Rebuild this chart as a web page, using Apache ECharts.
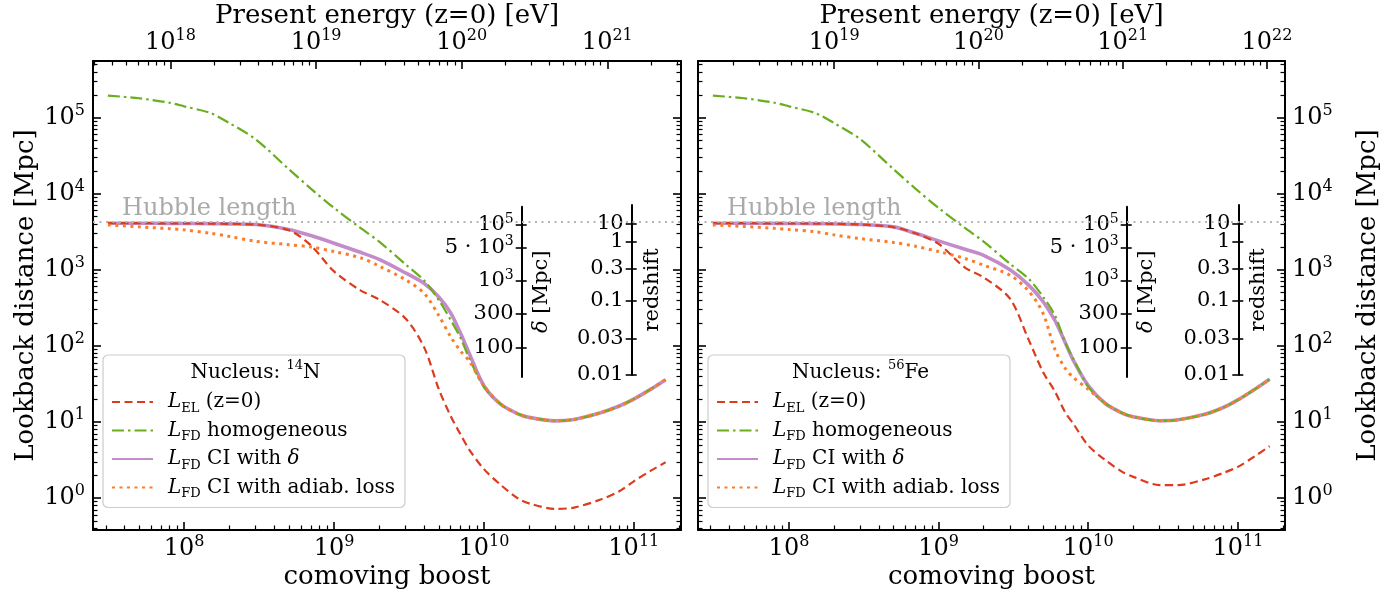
<!DOCTYPE html>
<html><head><meta charset="utf-8">
<script src="https://cdn.jsdelivr.net/npm/echarts@6/dist/echarts.min.js"></script>
<style>html,body{margin:0;padding:0;background:#fff}#c{width:1391px;height:599px}</style>
</head><body><div id="c"></div>
<script>
// ---------------- data ----------------
const boost = [3.1e7, 5e7, 8e7, 1e8, 1.5e8, 2e8, 3e8, 5e8, 7e8, 1e9, 1.5e9, 2e9, 3e9, 4e9, 5e9, 6e9, 7e9, 8e9, 1e10, 1.3e10, 1.7e10, 2e10, 3e10, 4e10, 6e10, 8e10, 1e11, 1.3e11, 1.63e11];

// Nucleus 14N (left panel), lookback distance [Mpc]
const lelN      = [4100, 4100, 4080, 4070, 4050, 4020, 3940, 3310, 2100, 955, 537, 407, 229, 95, 27, 12, 6.8, 4.3, 2.4, 1.48, 0.98, 0.85, 0.72, 0.75, 0.955, 1.23, 1.66, 2.29, 2.95];
const homN      = [195000, 180000, 157000, 141000, 115000, 85000, 52000, 21000, 11700, 6500, 3550, 2350, 1180, 720, 400, 220, 126, 68, 29, 17, 12.7, 11.5, 10.35, 10.8, 13.2, 16.2, 20, 27, 36];
const deltaN    = [4100, 4100, 4080, 4070, 4050, 4020, 3940, 3390, 2820, 2240, 1700, 1370, 910, 660, 440, 272, 145, 79, 30, 17, 12.7, 11.5, 10.35, 10.8, 13.2, 16.2, 20, 27, 36];
const adiabN    = [3890, 3670, 3470, 3350, 3020, 2750, 2370, 2140, 2000, 1740, 1440, 1120, 740, 490, 251, 132, 85, 63, 30, 17, 12.7, 11.5, 10.35, 10.8, 13.2, 16.2, 20, 27, 36];

// Nucleus 56Fe (right panel), lookback distance [Mpc]
const lelFe     = [4100, 4100, 4080, 4070, 4050, 4020, 3940, 3630, 3020, 2190, 1070, 795, 417, 120, 45, 25, 13.5, 9.3, 4.9, 3.16, 2.19, 1.9, 1.48, 1.48, 1.76, 2.14, 2.57, 3.55, 4.8];
const homFe     = [195000, 180000, 157000, 141000, 115000, 85000, 52000, 21000, 11700, 6500, 3550, 2350, 1200, 760, 440, 250, 112, 66, 29, 17.5, 13, 11.7, 10.4, 10.7, 12.6, 15.5, 19.5, 27, 36.5];
const deltaFe   = [4100, 4100, 4080, 4070, 4050, 4020, 3940, 3670, 3020, 2400, 1860, 1550, 1000, 630, 380, 214, 112, 63, 30, 17.5, 13, 11.7, 10.4, 10.7, 12.6, 15.5, 19.5, 27, 36.5];
const adiabFe   = [3890, 3720, 3510, 3390, 3160, 2880, 2570, 2290, 2040, 1740, 1410, 1150, 850, 525, 265, 89, 51, 38, 27, 17.5, 13, 11.7, 10.4, 10.7, 12.6, 15.5, 19.5, 27, 36.5];

const hubbleLength = 4300;
const nucleusN = '14', nucleusFe = '56';

// tick values / labels
const boostTicks = [1e8, 1e9, 1e10, 1e11];
const energyTicksN = [1e18, 1e19, 1e20, 1e21];
const energyTicksFe = [1e19, 1e20, 1e21, 1e22];
const distTicks = [1, 10, 100, 1e3, 1e4, 1e5];
const deltaTickPos = [3890, 1960, 715, 263, 94];
const deltaTickLabels = ['10^5', '5 · 10^3', '10^3', '300', '100'];
const zTickPos = [4050, 2360, 1030, 395, 126, 42];
const zTickLabels = ['10', '1', '0.3', '0.1', '0.03', '0.01'];

// ---------------- layout / style ----------------
const FONT = 'DejaVu Serif';
const xRange = [Math.pow(10, 7.392), Math.pow(10, 11.315)];
const yRange = [Math.pow(10, -0.42), Math.pow(10, 5.745)];
const eRanges = [[Math.pow(10, 17.468), Math.pow(10, 21.506)], [Math.pow(10, 18.056), Math.pow(10, 22.125)]];
const TOP = 61, H = 469;
const panels = [
  {left: 93, width: 588, deltaX: 521.7, zX: 631.7, legendLeft: 103, nuc: nucleusN, sym: 'N',
   data: [lelN, homN, deltaN, adiabN], eTicks: energyTicksN, eRange: eRanges[0]},
  {left: 698, width: 587, deltaX: 1126.7, zX: 1238.3, legendLeft: 708, nuc: nucleusFe, sym: 'Fe',
   data: [lelFe, homFe, deltaFe, adiabFe], eTicks: energyTicksFe, eRange: eRanges[1]}
];
const seriesDefs = [
  {name: 'EL', color: '#dc3b1c', width: 2.2, type: [8, 4.5], z: 3},
  {name: 'HOM', color: '#6aae1d', width: 2.2, type: [12, 4, 2.5, 4], z: 4},
  {name: 'DELTA', color: '#c48bca', width: 3.6, type: 'solid', z: 2},
  {name: 'ADIAB', color: '#fb7d28', width: 3, type: [3, 4.5], z: 5}
];
const legendText = {
  EL: '{i|L}{sub|EL}{t| (z=0)}',
  HOM: '{i|L}{sub|FD}{t| homogeneous}',
  DELTA: '{i|L}{sub|FD}{t| CI with }{i|δ}',
  ADIAB: '{i|L}{sub|FD}{t| CI with adiab. loss}'
};

const richTick = {
  b: {fontFamily: FONT, fontSize: 24, lineHeight: 30, color: '#000'},
  s: {fontFamily: FONT, fontSize: 16, lineHeight: 17, verticalAlign: 'top', color: '#000'}
};
const richInner = {
  b: {fontFamily: FONT, fontSize: 21, lineHeight: 26, color: '#000'},
  s: {fontFamily: FONT, fontSize: 14, lineHeight: 14, verticalAlign: 'top', color: '#000'}
};
function pow10Label(v) { const e = Math.round(Math.log10(v)); return '{b|10}{s|' + e + '}'; }
function richify(s) {
  const m = s.match(/^(.*)\^(\d+)$/);
  return m ? '{b|' + m[1] + '}{s|' + m[2] + '}' : '{b|' + s + '}';
}
function nearestLabel(v, pos, labels) {
  let best = 0, bd = Infinity;
  pos.forEach((p, i) => { const d = Math.abs(Math.log(p) - Math.log(v)); if (d < bd) { bd = d; best = i; } });
  return richify(labels[best]);
}
function minorVals(lo, hi) {
  const out = [];
  for (let e = Math.floor(Math.log10(lo)); e <= Math.ceil(Math.log10(hi)); e++) {
    for (let m = 2; m <= 9; m++) { const v = m * Math.pow(10, e); if (v >= lo && v <= hi) out.push(v); }
  }
  return out;
}
const axisLine = {show: true, onZero: false, lineStyle: {color: '#000', width: 2}};
const nameStyle = {fontFamily: FONT, fontSize: 26, color: '#000'};

const grids = [], xAxes = [], yAxes = [], series = [], legends = [], graphics = [];
const addGrid = g => { grids.push(Object.assign({outerBoundsMode: 'none', containLabel: false}, g)); return grids.length - 1; };
const addX = a => { xAxes.push(a); return xAxes.length - 1; };
const addY = a => { yAxes.push(a); return yAxes.length - 1; };

function logAxis(gridIndex, range, position, extra) {
  return Object.assign({
    type: 'log', gridIndex, min: range[0], max: range[1], position,
    axisLine: {show: false, onZero: false}, splitLine: {show: false},
    minorTick: {show: false}, minorSplitLine: {show: false},
    axisPointer: {show: false}, nameMoveOverlap: false, silent: true
  }, extra);
}
function majorTick(vals, len) { return {show: true, inside: true, length: len || 8, customValues: vals, lineStyle: {color: '#000', width: 1.6}}; }
function minorTick(vals) { return {show: true, inside: true, length: 4.5, customValues: vals, lineStyle: {color: '#000', width: 1.2}}; }
function labelOpts(vals, fmt, rich, margin, show, inside) {
  return {show: show !== false, inside: !!inside, customValues: vals, formatter: fmt, rich, margin,
          showMinLabel: true, showMaxLabel: true, hideOverlap: false};
}

panels.forEach((p, pi) => {
  const gi = addGrid({left: p.left, top: TOP, width: p.width, height: H});
  // bottom boost axis
  const xb = addX(logAxis(gi, xRange, 'bottom', {
    axisLine, axisTick: majorTick(boostTicks),
    axisLabel: labelOpts(boostTicks, pow10Label, richTick, 4),
    name: 'comoving boost', nameLocation: 'middle', nameGap: 34, nameTextStyle: nameStyle
  }));
  addX(logAxis(gi, xRange, 'bottom', {axisTick: minorTick(minorVals(xRange[0], xRange[1])), axisLabel: {show: false}}));
  // top energy axis
  addX(logAxis(gi, p.eRange, 'top', {
    axisLine, axisTick: majorTick(p.eTicks),
    axisLabel: labelOpts(p.eTicks, pow10Label, richTick, 3),
    name: 'Present energy (z=0) [eV]', nameLocation: 'middle', nameGap: 32, nameTextStyle: nameStyle
  }));
  addX(logAxis(gi, p.eRange, 'top', {axisTick: minorTick(minorVals(p.eRange[0], p.eRange[1])), axisLabel: {show: false}}));
  // y axes
  const leftLabels = pi === 0, rightLabels = pi === 1;
  const yl = addY(logAxis(gi, yRange, 'left', Object.assign({
    axisLine, axisTick: majorTick(distTicks),
    axisLabel: labelOpts(distTicks, pow10Label, richTick, 8, leftLabels)
  }, leftLabels ? {name: 'Lookback distance [Mpc]', nameLocation: 'middle', nameRotate: 90, nameGap: 54, nameTextStyle: nameStyle} : {})));
  addY(logAxis(gi, yRange, 'left', {axisTick: minorTick(minorVals(yRange[0], yRange[1])), axisLabel: {show: false}}));
  addY(logAxis(gi, yRange, 'right', Object.assign({
    axisLine, axisTick: majorTick(distTicks),
    axisLabel: labelOpts(distTicks, pow10Label, richTick, 7, rightLabels)
  }, rightLabels ? {name: 'Lookback distance [Mpc]', nameLocation: 'middle', nameRotate: 90, nameGap: 70, nameTextStyle: nameStyle} : {})));
  addY(logAxis(gi, yRange, 'right', {axisTick: minorTick(minorVals(yRange[0], yRange[1])), axisLabel: {show: false}}));

  // curves
  seriesDefs.forEach((d, si) => {
    const s = {
      type: 'line', name: d.name, xAxisIndex: xb, yAxisIndex: yl,
      data: boost.map((b, i) => [b, p.data[si][i]]),
      symbol: 'none', smooth: 0.3, z: d.z, silent: true,
      color: d.color, itemStyle: {color: d.color},
      lineStyle: {color: d.color, width: d.width, type: d.type, cap: 'butt'}
    };
    if (d.name === 'DELTA') {
      s.markLine = {
        silent: true, symbol: 'none', animation: false,
        lineStyle: {color: '#b5b5b5', width: 2, type: [2, 4.5]},
        label: {show: true, position: 'insideStartTop', formatter: 'Hubble length', color: '#aaaaaa',
                fontFamily: FONT, fontSize: 24, distance: 1, padding: [0, 0, 0, 28]},
        data: [{yAxis: hubbleLength}]
      };
    }
    series.push(s);
  });

  // legend
  legends.push({
    left: p.legendLeft, top: 355, orient: 'vertical', selectedMode: false,
    padding: [37, 10, 7, 8], itemGap: 5.5, itemWidth: 41, itemHeight: 14,
    backgroundColor: 'rgba(255,255,255,0.85)', borderColor: '#cccccc', borderWidth: 1.2, borderRadius: 5,
    itemStyle: {opacity: 0, borderWidth: 0},
    data: seriesDefs.map(d => d.name), formatter: n => legendText[n],
    textStyle: {fontFamily: FONT, fontSize: 20, color: '#000', padding: [0, 0, 0, 10],
      rich: {
        i: {fontFamily: FONT, fontSize: 20, fontStyle: 'italic', lineHeight: 26, color: '#000'},
        sub: {fontFamily: FONT, fontSize: 13, lineHeight: 14, verticalAlign: 'bottom', color: '#000'},
        t: {fontFamily: FONT, fontSize: 20, lineHeight: 26, color: '#000'}
      }}
  });
  graphics.push({
    type: 'text', x: p.legendLeft + 152.5, y: 373, z: 200,
    style: {text: '{n|Nucleus: }{s|' + p.nuc + '}{n|' + p.sym + '}', align: 'center', verticalAlign: 'middle',
      rich: {n: {fontFamily: FONT, fontSize: 20, lineHeight: 28, fill: '#000'},
             s: {fontFamily: FONT, fontSize: 13, lineHeight: 15, verticalAlign: 'top', fill: '#000'}}}
  });

  // inner delta and redshift axes
  const inner = [
    {x: p.deltaX, top: 206.7, bottom: 377, pos: deltaTickPos, labels: deltaTickLabels, name: '{i|δ}{t| [Mpc]}', gap: 9},
    {x: p.zX, top: 205, bottom: 375, pos: zTickPos, labels: zTickLabels, name: '{t|redshift}', gap: 10}
  ];
  inner.forEach(ax => {
    const g = addGrid({left: ax.x - 10, width: 10, top: ax.top, height: ax.bottom - ax.top});
    addX({type: 'value', gridIndex: g, show: false, min: 0, max: 1});
    const lo = Math.pow(10, 5 - (ax.bottom - 117.7) / 76.1), hi = Math.pow(10, 5 - (ax.top - 117.7) / 76.1);
    const fmt = v => nearestLabel(v, ax.pos, ax.labels);
    // axis line, inward ticks, name
    addY(logAxis(g, [lo, hi], 'right', {
      axisLine, axisTick: majorTick(ax.pos, 6), axisLabel: {show: false},
      name: ax.name, nameLocation: 'middle', nameRotate: 90, nameGap: ax.gap,
      nameTextStyle: {fontFamily: FONT, fontSize: 21, color: '#000',
        rich: {i: {fontFamily: FONT, fontSize: 21, fontStyle: 'italic', color: '#000'}, t: {fontFamily: FONT, fontSize: 21, color: '#000'}}}
    }));
    // outward ticks
    addY(logAxis(g, [lo, hi], 'right', {axisTick: {show: true, inside: false, length: 5, customValues: ax.pos, lineStyle: {color: '#000', width: 1.6}}, axisLabel: {show: false}}));
    // labels, split over two axes so that close neighbours never collide
    [0, 1].forEach(par => {
      const vals = ax.pos.filter((v, i) => i % 2 === par);
      addY(logAxis(g, [lo, hi], 'right', {
        axisTick: {show: false},
        axisLabel: labelOpts(vals, fmt, richInner, 8, true, true)
      }));
    });
  });
});

const chart = echarts.init(document.getElementById('c'), null, {renderer: 'canvas'});
chart.setOption({
  animation: false,
  backgroundColor: '#fff',
  textStyle: {fontFamily: FONT},
  grid: grids, xAxis: xAxes, yAxis: yAxes, series, legend: legends, graphic: graphics,
  tooltip: {show: false}
});
</script></body></html>
